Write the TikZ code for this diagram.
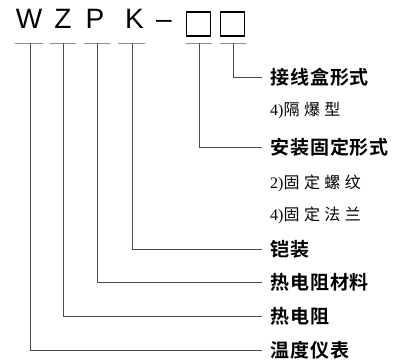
\documentclass[tikz,border=0pt]{standalone}
\usepackage{fontspec}
\setmainfont{Liberation Serif}
\newfontfamily\latf{Liberation Sans}
\newfontfamily\cjkh{Noto Sans CJK SC Bold}[LetterSpace=5]
\newfontfamily\cjkr{Noto Sans CJK SC}[LetterSpace=28]
\begin{document}
\begin{tikzpicture}[x=1pt,y=-1pt,
  letter/.style={font=\latf\fontsize{28}{28}\selectfont, inner sep=0pt, anchor=base},
  codebox/.style={draw, line width=1.1pt, minimum width=24pt, minimum height=24pt, inner sep=0pt},
  heading/.style={font=\cjkh\fontsize{19}{19}\selectfont, anchor=west, inner xsep=8pt, inner ysep=0pt},
  option/.style={font=\fontsize{16}{16}\selectfont, anchor=west, inner xsep=0pt, inner ysep=0pt},
  uline/.style={line width=0.7pt, black!45},
  conn/.style={line width=0.8pt, black!70}]
\useasboundingbox (0,0) rectangle (403,360);
% code letters
\node[letter] (W) at (29,28) {W};
\node[letter] (Z) at (63,28) {Z};
\node[letter] (P) at (95,28) {P};
\node[letter] (K) at (134.5,28) {K};
\node[letter] (dash) at (164,28) {–};
\node[codebox] (b1) at (198.5,24) {};
\node[codebox] (b2) at (232.5,24) {};
% underlines
\draw[uline] (15,43) -- (43,43);
\draw[uline] (50,43) -- (76,43);
\draw[uline] (84,43) -- (110,43);
\draw[uline] (118,43) -- (145,43);
\draw[uline] (186,43) -- (212,43);
\draw[uline] (220,43) -- (246,43);
\coordinate (cW) at (30,43);
\coordinate (cZ) at (63,43);
\coordinate (cP) at (97,43);
\coordinate (cK) at (132,43);
\coordinate (c1) at (199,43);
\coordinate (c2) at (233.5,43);
% labels
\node[heading] (l2) at (262,77) {接线盒形式};
\node[option] (o21) at (270,111) {4)\cjkr 隔爆型};
\node[heading] (l1) at (262,147) {安装固定形式};
\node[option] (o11) at (270,183) {2)\cjkr 固定螺纹};
\node[option] (o12) at (270,215) {4)\cjkr 固定法兰};
\node[heading] (lK) at (262,249) {铠装};
\node[heading] (lP) at (262,282) {热电阻材料};
\node[heading] (lZ) at (262,316) {热电阻};
\node[heading] (lW) at (262,350.5) {温度仪表};
% connectors
\draw[conn] (c2) |- (l2.west);
\draw[conn] (c1) |- (l1.west);
\draw[conn] (cK) |- (lK.west);
\draw[conn] (cP) |- (lP.west);
\draw[conn] (cZ) |- (lZ.west);
\draw[conn] (cW) |- (lW.west);
\end{tikzpicture}
\end{document}
